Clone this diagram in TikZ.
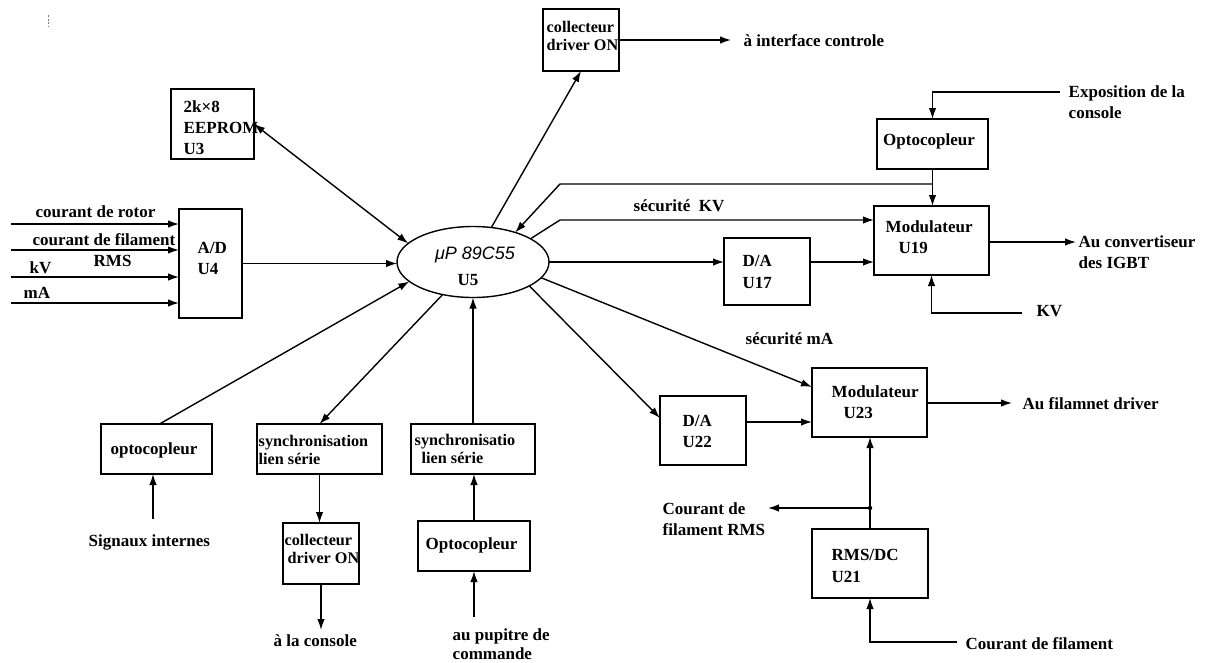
\documentclass[tikz,border=0pt]{standalone}
\usepackage{fontspec}
\setmainfont{Liberation Serif}
\newfontfamily\chipfont{Liberation Sans}
\usetikzlibrary{arrows.meta,shapes.geometric}

\begin{document}
\begin{tikzpicture}[x=1pt,y=-1pt, line width=1.4pt,
  box/.style={draw, rectangle, inner sep=0pt, outer sep=0pt},
  txt/.style={anchor=base west, inner sep=0pt, font=\bfseries\fontsize{17}{21}\selectfont},
  stxt/.style={txt, font=\bfseries\fontsize{16.2}{20}\selectfont},
  ctxt/.style={txt, anchor=base},
  arr/.style={-{Latex[length=11pt,width=7.5pt]}},
  darr/.style={{Latex[length=11pt,width=7.5pt]}-{Latex[length=11pt,width=7.5pt]}}]

\fill[white] (0,0) rectangle (1206,662);
\useasboundingbox (0,0) rectangle (1206,662);

% small dotted mark, top left
\draw[gray, line width=0.8pt, dash pattern=on 2pt off 1.5pt] (48,15) -- (48,26);

% ---- blocks ----
\node[draw, ellipse, inner sep=0pt, outer sep=0pt, minimum width=152pt, minimum height=71pt] (u5) at (473,262) {};
\node[box, minimum width=83pt,  minimum height=70pt]  (eeprom) at (212.5,124) {};
\node[box, minimum width=63pt,  minimum height=109pt] (ad)     at (210.5,263.5) {};
\node[box, minimum width=76pt,  minimum height=62pt]  (coltop) at (581,40) {};
\node[box, minimum width=111pt, minimum height=50pt]  (optoTR) at (932.5,144) {};
\node[box, minimum width=115pt, minimum height=69pt]  (mod19)  at (931.5,240.5) {};
\node[box, minimum width=86pt,  minimum height=67pt]  (da17)   at (767,271.5) {};
\node[box, minimum width=115pt, minimum height=69pt]  (mod23)  at (869.5,402.5) {};
\node[box, minimum width=86pt,  minimum height=69pt]  (da22)   at (703,430.5) {};
\node[box, minimum width=116pt, minimum height=69pt]  (rms)    at (870,563.5) {};
\node[box, minimum width=111pt, minimum height=50pt]  (optoL)  at (156.5,449) {};
\node[box, minimum width=125pt, minimum height=50pt]  (sync1)  at (319.5,449) {};
\node[box, minimum width=76pt,  minimum height=61pt]  (col2)   at (321,553.5) {};
\node[box, minimum width=124pt, minimum height=50pt]  (sync2)  at (473,449) {};
\node[box, minimum width=112pt, minimum height=50pt]  (opto3)  at (474,546) {};

% ---- texts ----
\node[anchor=base, inner sep=0pt, font=\chipfont\itshape\fontsize{18}{21}\selectfont] (mup) at (475,259.5) {μP 89C55};
\node[ctxt] (u5t) at (468,285) {U5};

\node[txt] (e1) at (183,112) {2k×8};
\node[txt] (e2) at (183,133) {EEPROM};
\node[txt] (e3) at (183,154) {U3};

\node[txt] (a1) at (197,253) {A/D};
\node[txt] (a2) at (197,274) {U4};

\node[txt] (in1t) at (35,217) {courant de rotor};
\node[txt] (in2t) at (32,245) {courant de filament};
\node[txt] (in2u) at (93,266) {RMS};
\node[txt] (in3t) at (29,273) {kV};
\node[txt] (in4t) at (23,298) {mA};

\node[stxt] (c1) at (546,32) {collecteur};
\node[stxt] (c2) at (546,50) {driver ON};
\node[txt] (ifct) at (743,46) {à interface controle};

\node[ctxt] (o1) at (929,145) {Optocopleur};
\node[txt] (ex1) at (1068,97) {Exposition de la};
\node[txt] (ex2) at (1068,118) {console};

\node[txt] (m1) at (885,232) {Modulateur};
\node[txt] (m2) at (898,253) {U19};
\node[txt] (ig1) at (1078,247) {Au convertiseur};
\node[txt] (ig2) at (1078,268) {des IGBT};
\node[txt] (kvt) at (1036,316) {KV};

\node[txt] (d1) at (742,266) {D/A};
\node[txt] (d2) at (742,288) {U17};
\node[txt] (skvt) at (633,211) {sécurité\ \ KV};

\node[txt] (n1) at (831,397) {Modulateur};
\node[txt] (n2) at (843,418) {U23};
\node[txt] (filt) at (1022,409) {Au filamnet driver};

\node[txt] (f1) at (682,426) {D/A};
\node[txt] (f2) at (682,447) {U22};
\node[txt] (smat) at (745,344) {sécurité mA};

\node[txt] (cr1) at (662,514) {Courant de};
\node[txt] (cr2) at (662,535) {filament RMS};
\node[txt] (r1t) at (831,560) {RMS/DC};
\node[txt] (r2t) at (831,582) {U21};
\node[txt] (cft) at (965,649) {Courant de filament};

\node[ctxt] (olt) at (154,454) {optocopleur};
\node[txt] (sigt) at (88,546) {Signaux internes};

\node[stxt] (s1a) at (258,446) {synchronisation};
\node[stxt] (s1b) at (258,464) {lien série};
\node[stxt] (k1) at (284,545) {collecteur};
\node[stxt] (k2) at (287,563) {driver ON};
\node[txt] (const) at (273,646) {à la console};

\node[stxt] (s2a) at (414,445) {synchronisatio};
\node[stxt] (s2b) at (421,463) {lien série};
\node[txt] (o3t) at (425,549) {Optocopleur};
\node[txt] (p1) at (452,640) {au pupitre de};
\node[txt] (p2) at (452,659) {commande};

% ---- free ends and bends ----
\coordinate (r1) at (11,224);
\coordinate (r2) at (11,250);
\coordinate (r3) at (11,277);
\coordinate (r4) at (11,303);
\coordinate (ifc) at (731,40);
\coordinate (expo) at (1060,92);
\coordinate (fbB) at (560,184);
\coordinate (skv) at (560,220);
\coordinate (igbt) at (1076,242);
\coordinate (kv) at (1022,313);
\coordinate (sma) at (812,387);
\coordinate (d22) at (660,418);
\coordinate (m23) at (746,422);
\coordinate (fil) at (1012,403);
\coordinate (jn) at (870,508);
\coordinate (rmsout) at (768,508);
\coordinate (cf) at (957,642);
\coordinate (sig) at (153,519);
\coordinate (cons) at (320,630);
\coordinate (pup) at (474,617);

% ---- connectors ----
\draw[arr] (r1) -- (r1 -| ad.west);
\draw[arr] (r2) -- (r2 -| ad.west);
\draw[arr] (r3) -- (r3 -| ad.west);
\draw[arr] (r4) -- (r4 -| ad.west);
\draw[arr] (ad.east) -- (ad.east -| u5.west);
\draw[darr] (eeprom.east) -- (u5.164);

\draw[arr] (u5.62) -- (coltop.south);
\draw[arr] (coltop.east) -- (ifc);

\draw[arr] (expo) -| (optoTR.north);
\draw[arr] (optoTR.south) -- (optoTR.south |- mod19.north);
\draw[arr] (optoTR.south |- fbB) -- (fbB) -- (u5.35);
\draw[arr] (u5.22) -- (skv) -- (skv -| mod19.west);
\draw[arr] (u5.0) -- (u5.0 -| da17.west);
\draw[arr] (da17.east |- u5.0) -- (u5.0 -| mod19.west);
\draw[arr] (igbt -| mod19.east) -- (igbt);
\draw[arr] (kv) -| (mod19.south);

\draw[arr] (u5.347) -- (mod23.west |- sma);
\draw[arr] (u5.337) -- (da22.west |- d22);
\draw[arr] (da22.east |- m23) -- (mod23.west |- m23);
\draw[arr] (fil -| mod23.east) -- (fil);
\draw[arr] (rms.north) -- (rms.north |- mod23.south);
\fill (jn) circle (2.2pt);
\draw[arr] (jn) -- (rmsout);
\draw[arr] (cf) -| (rms.south);

\draw[arr] ([xshift=3pt]optoL.north) -- (u5.197);
\draw[arr] (sig) -- (sig |- optoL.south);
\draw[arr] (u5.227) -- (sync1.north);
\draw[arr] (sync1.south) -- (sync1.south |- col2.north);
\draw[arr] (col2.south) -- (col2.south |- cons);
\draw[arr] (sync2.north) -- (u5.270);
\draw[arr] (opto3.north) -- (opto3.north |- sync2.south);
\draw[arr] (pup) -- (opto3.south);

\end{tikzpicture}
\end{document}
